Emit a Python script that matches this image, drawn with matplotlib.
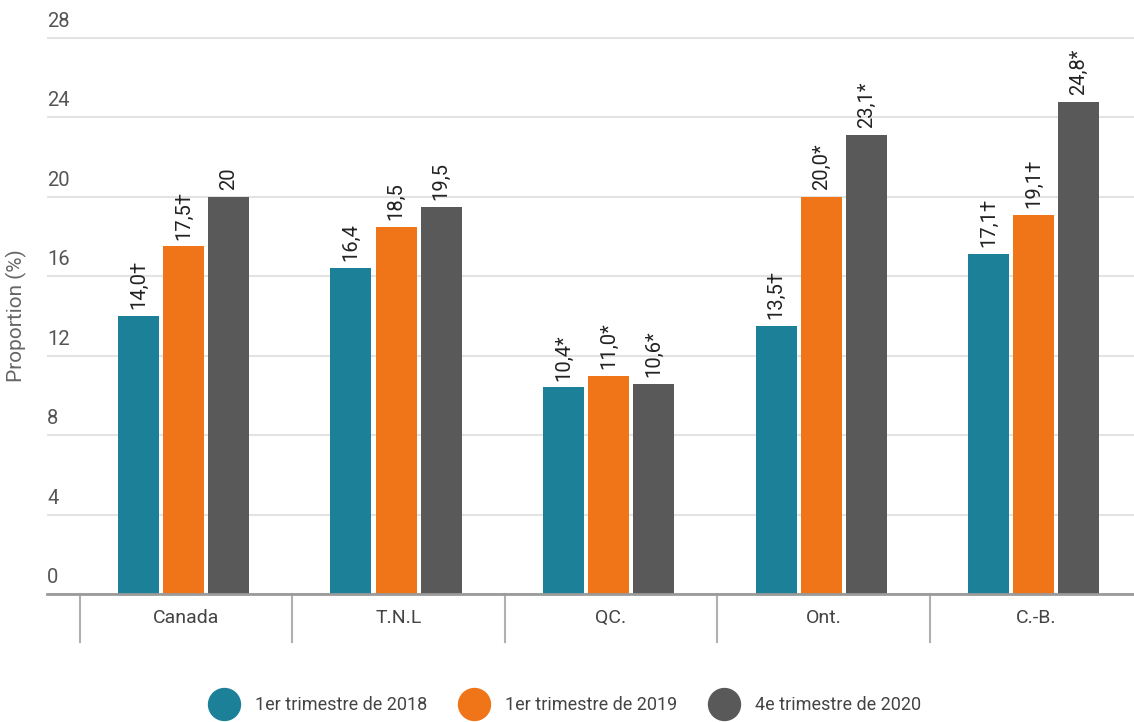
import matplotlib
matplotlib.use("Agg")
import matplotlib.pyplot as plt
import matplotlib.transforms as mtransforms
from matplotlib.lines import Line2D
import numpy as np

plt.rcParams['font.family'] = ['Roboto', 'DejaVu Sans']

categories = ["Canada", "T.N.L", "QC.", "Ont.", "C.-B."]
series_names = ["1er trimestre de 2018", "1er trimestre de 2019", "4e trimestre de 2020"]
values_2018 = [14.0, 16.4, 10.4, 13.5, 17.1]
values_2019 = [17.5, 18.5, 11.0, 20.0, 19.1]
values_2020 = [20.0, 19.5, 10.6, 23.1, 24.8]
labels_2018 = ["14,0†", "16,4", "10,4*", "13,5†", "17,1†"]
labels_2019 = ["17,5†", "18,5", "11,0*", "20,0*", "19,1†"]
labels_2020 = ["20", "19,5", "10,6*", "23,1*", "24,8*"]
yticks = [0, 4, 8, 12, 16, 20, 24, 28]

colors = ["#1c8099", "#f07519", "#595959"]

fig = plt.figure(figsize=(11.34, 7.22), dpi=100)
ax = fig.add_axes([47/1134, 1-594/722, 1-47/1134, (594-37)/722])

x = np.arange(len(categories))
width = 0.193
step = 0.212
all_vals = [values_2018, values_2019, values_2020]
all_labels = [labels_2018, labels_2019, labels_2020]
for k, (vals, labs) in enumerate(zip(all_vals, all_labels)):
    pos = x + (k - 1) * step - 0.012
    bars = ax.bar(pos, vals, width, color=colors[k], edgecolor='none', zorder=3)
    for b, lab in zip(bars, labs):
        ax.annotate(lab, (b.get_x() + b.get_width()/2, b.get_height()),
                    xytext=(0, 5), textcoords='offset points', rotation=90,
                    ha='center', va='bottom', fontsize=14.5, color='#222222')

ax.set_xlim(-0.654, 4.46)
ax.set_ylim(0, 28.05)
ax.set_yticks(yticks)
ax.set_yticklabels([])
ax.tick_params(axis='y', length=0)
ax.yaxis.grid(True, color='#e3e3e3', lw=1.5, zorder=0)
for t in yticks:
    ax.annotate(str(t), (0, t), xycoords=('axes fraction', 'data'),
                xytext=(0, 5), textcoords='offset points',
                ha='left', va='bottom', fontsize=14.5, color='#555555')

for s in ax.spines.values():
    s.set_visible(False)
ax.axhline(0, color='#9a9a9a', lw=2, zorder=4, clip_on=False)

ax.set_xticks(x)
ax.set_xticklabels(categories, fontsize=14, color='#444444')
ax.tick_params(axis='x', length=0, pad=11)

trans = mtransforms.blended_transform_factory(ax.transData, ax.transAxes)
for bnd in np.arange(-0.5, 5.0, 1.0):
    ax.plot([bnd, bnd], [0, -48/557], transform=trans, color='#b0b0b0', lw=1.5, clip_on=False)

ax.set_ylabel("Proportion (%)", fontsize=15, color='#666666')
ax.yaxis.set_label_coords(-0.018, 0.5)

handles = [Line2D([], [], marker='o', ls='none', markersize=23, markerfacecolor=c,
                  markeredgecolor=c) for c in colors]
fig.legend(handles, series_names, loc='center', bbox_to_anchor=(0.497, 1-705/722),
           ncol=3, frameon=False, fontsize=13, handletextpad=0.7, columnspacing=1.6,
           labelcolor='#444444')

fig.savefig("out.png", dpi=100)
